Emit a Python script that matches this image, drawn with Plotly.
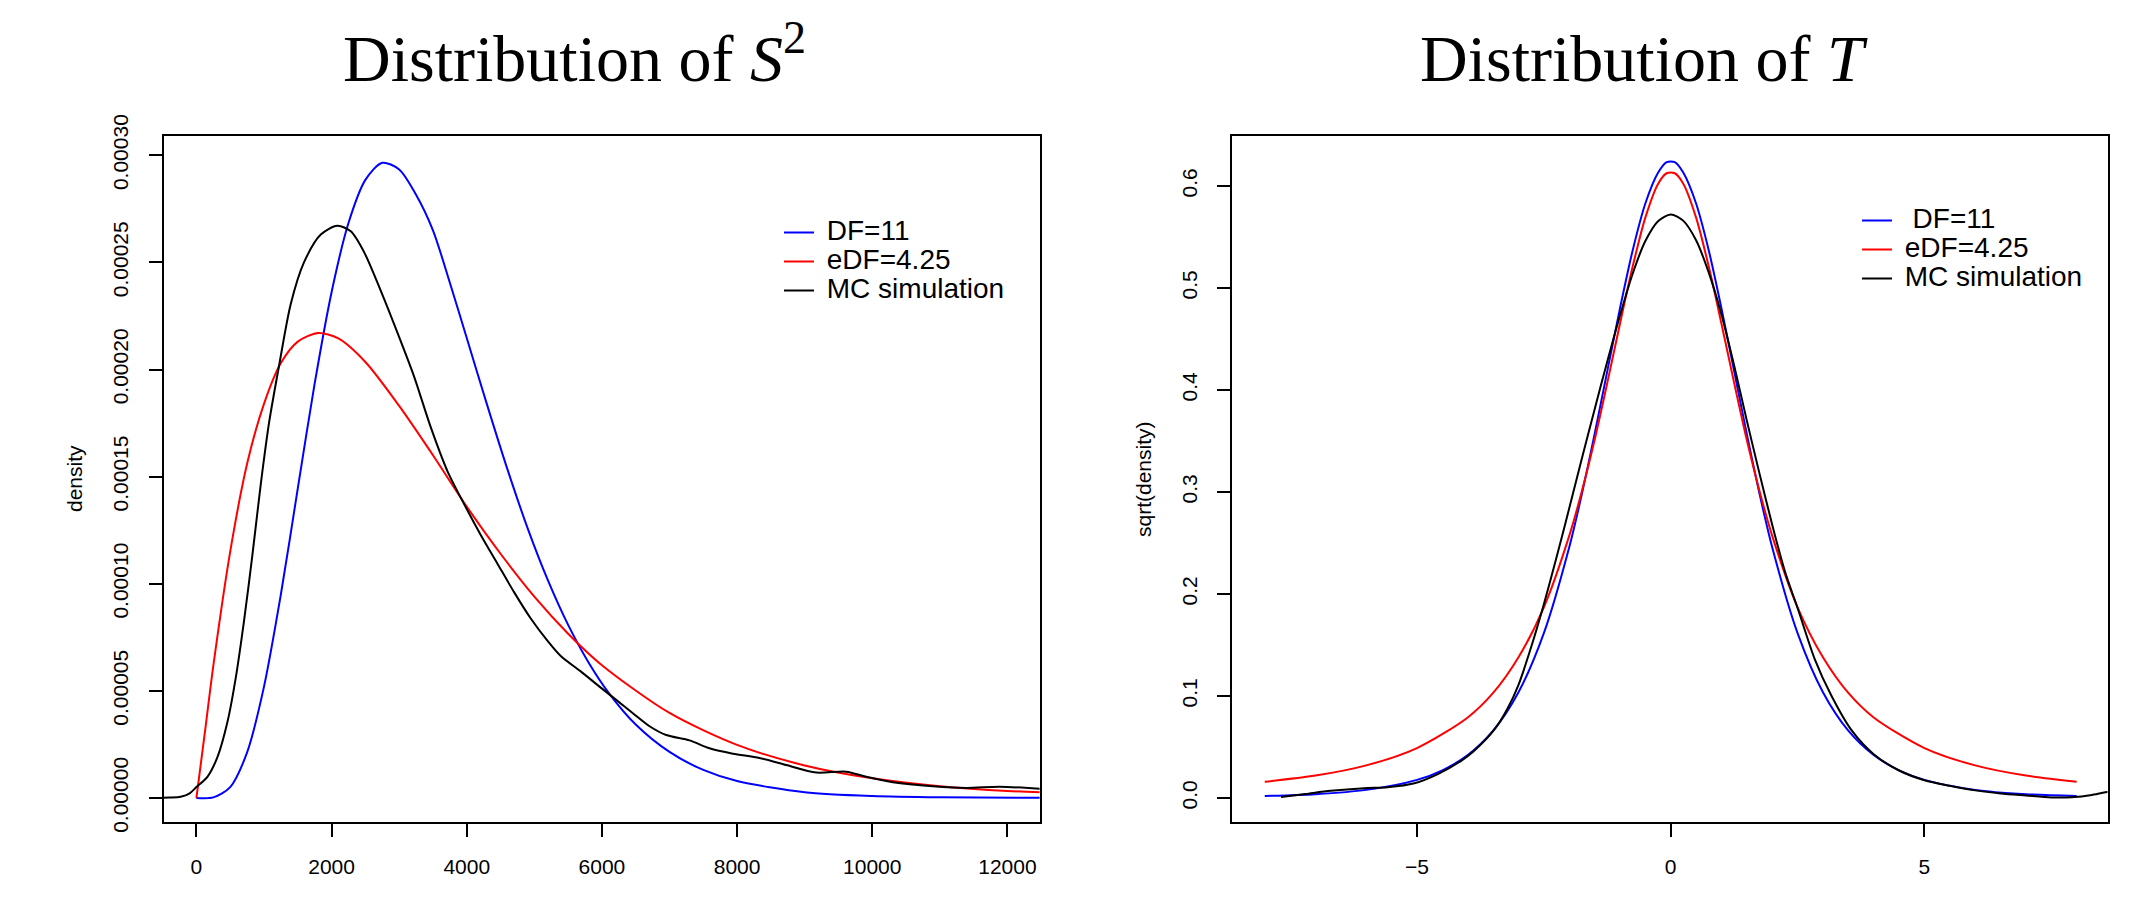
import plotly.graph_objects as go

W, H = 2145, 909
OFF = 8  # the page body margin shifts the figure by this many pixels

# ---------------- Left panel: distribution of S^2 ----------------
s2_blue_x = [0, 250, 500, 750, 1000, 1250, 1500, 1750, 2000, 2250, 2500, 2750, 3000, 3250, 3500,
             3750, 4000, 4300, 4600, 4900, 5200, 5500, 5800, 6100, 6500, 7000, 7500, 8000, 9000,
             10000, 11000, 12600]
s2_blue_y = [0, 0.0000003, 0.0000051, 0.0000213, 0.000052, 0.0000951, 0.0001445, 0.0001935,
             0.0002361, 0.0002684, 0.0002885, 0.0002965, 0.0002934, 0.0002816, 0.000265,
             0.0002405, 0.0002147, 0.0001836, 0.0001536, 0.000126, 0.0001017, 0.0000808,
             0.0000634, 0.0000491, 0.0000343, 0.0000215, 0.0000131, 0.0000079, 0.0000027,
             0.0000009, 0.0000003, 0.0000001]

s2_red_x = [0, 125, 250, 500, 750, 1000, 1250, 1500, 1800, 2100, 2500, 3000, 3500, 4000, 4500,
            5000, 5500, 6000, 7000, 8000, 9000, 10000, 11000, 12000, 12600]
s2_red_y = [0, 0.0000306, 0.0000617, 0.000115, 0.000156, 0.000184, 0.000203, 0.000213, 0.000217,
            0.0002145, 0.0002035, 0.000183, 0.00016, 0.000136, 0.000114, 0.000094, 0.0000767,
            0.000062, 0.0000397, 0.0000248, 0.0000152, 0.0000092, 0.0000055, 0.0000033, 0.0000026]

s2_mc_x = [-600, -400, -232, -100, 0, 163, 311, 459, 582, 705, 829, 952, 1075, 1223, 1396, 1593,
           1840, 2086, 2284, 2481, 2727, 2974, 3221, 3467, 3714, 3911, 4207, 4454, 4700, 4947,
           5193, 5391, 5686, 5964, 6211, 6458, 6705, 6951, 7297, 7592, 7938, 8332, 8727, 9171,
           9615, 9911, 10306, 10898, 11391, 11884, 12477, 12700]
s2_mc_y = [0, 0.0000002, 0.0000006, 0.0000022, 0.0000051, 0.0000099, 0.0000191, 0.0000355,
           0.0000561, 0.0000828, 0.0001136, 0.0001464, 0.0001752, 0.0002018, 0.0002306,
           0.0002501, 0.000263, 0.0002671, 0.0002645, 0.0002548, 0.0002368, 0.0002172,
           0.0001967, 0.0001731, 0.0001526, 0.0001402, 0.0001228, 0.0001094, 0.0000961,
           0.0000838, 0.0000735, 0.0000663, 0.0000591, 0.000052, 0.0000458, 0.0000396,
           0.0000335, 0.0000294, 0.0000269, 0.0000232, 0.0000207, 0.0000187, 0.0000154,
           0.0000119, 0.0000123, 0.0000099, 0.0000074, 0.0000055, 0.0000047, 0.0000053,
           0.0000043, 0.000004]

s2_xticks = [0, 2000, 4000, 6000, 8000, 10000, 12000]
s2_yticks = [0, 0.00005, 0.0001, 0.00015, 0.0002, 0.00025, 0.0003]

# ---------------- Right panel: distribution of T ----------------
t_blue_x = [-8, -7, -6, -5, -4.5, -4, -3.5, -3, -2.5, -2, -1.75, -1.5, -1.25, -1, -0.75, -0.5,
            -0.25, -0.08, 0.08, 0.25, 0.5, 0.75, 1, 1.25, 1.5, 1.75, 2, 2.5, 3, 3.5, 4, 4.5, 5,
            6, 7, 8]
t_blue_y = [0.002, 0.0038, 0.008, 0.0178, 0.0272, 0.0421, 0.066, 0.1037, 0.1616, 0.2458, 0.2983,
            0.3567, 0.4185, 0.48, 0.5368, 0.5828, 0.6129, 0.6234, 0.6234, 0.6129, 0.5828, 0.5368,
            0.48, 0.4185, 0.3567, 0.2983, 0.2458, 0.1616, 0.1037, 0.066, 0.0421, 0.0272, 0.0178,
            0.008, 0.0038, 0.002]

t_red_x = [-8, -7, -6, -5, -4, -3.5, -3, -2.5, -2, -1.75, -1.5, -1.25, -1, -0.75, -0.5, -0.25,
           -0.08, 0.08, 0.25, 0.5, 0.75, 1, 1.25, 1.5, 1.75, 2, 2.5, 3, 3.5, 4, 5, 6, 7, 8]
t_red_y = [0.016, 0.022, 0.032, 0.049, 0.079, 0.103, 0.138, 0.187, 0.257, 0.301, 0.351, 0.407,
           0.465, 0.521, 0.569, 0.602, 0.6125, 0.6125, 0.602, 0.569, 0.521, 0.465, 0.407, 0.351,
           0.301, 0.257, 0.187, 0.138, 0.103, 0.079, 0.049, 0.032, 0.022, 0.016]

t_mc_x = [-7.68, -7.2, -6.7, -6.04, -5.58, -5.05, -4.59, -4.13, -3.9, -3.48, -3.21, -3.0, -2.75,
          -2.5, -2.25, -2.0, -1.75, -1.5, -1.25, -1.0, -0.75, -0.5, -0.25, 0, 0.25, 0.5, 0.75,
          1.0, 1.25, 1.5, 1.75, 2.0, 2.25, 2.52, 2.84, 3.17, 3.57, 4.0, 4.5, 5.0, 5.5, 6.0, 6.5,
          7.0, 7.5, 7.9, 8.3, 8.6, 8.9]
t_mc_y = [0.0011, 0.004, 0.0071, 0.0097, 0.0106, 0.0145, 0.0235, 0.0365, 0.0451, 0.0667, 0.0883,
          0.111, 0.148, 0.19, 0.236, 0.284, 0.333, 0.381, 0.428, 0.473, 0.514, 0.546, 0.5655,
          0.5721, 0.5658, 0.5468, 0.515, 0.474, 0.424, 0.37, 0.318, 0.268, 0.2222, 0.1834,
          0.136, 0.1, 0.066, 0.043, 0.027, 0.0175, 0.012, 0.0075, 0.0045, 0.0025, 0.0006,
          0.0008, 0.003, 0.006, 0.009]

t_xticks = [-5, 0, 5]
t_yticks = [0.0, 0.1, 0.2, 0.3, 0.4, 0.5, 0.6]

legend_names = ["DF=11", "eDF=4.25", "MC simulation"]
legend_names_t = ["\u00a0DF=11", "eDF=4.25", "MC simulation"]
colors = ["#0000FF", "#FF0000", "#000000"]

SANS = "Liberation Sans, Arial, Helvetica, sans-serif"
SERIF = "Liberation Serif, Times New Roman, serif"


def px_x(p):
    return (p - OFF) / W


def px_y(p):
    return 1 - (p - OFF) / H


def lab(t):
    # leading non-breaking space reproduces the gap between the key line and the text
    return '<span style="font-size:28px">\u00a0' + t + '</span>'


fig = go.Figure()

for (xs, ys), name, c in zip([(s2_blue_x, s2_blue_y), (s2_red_x, s2_red_y), (s2_mc_x, s2_mc_y)],
                             legend_names, colors):
    fig.add_trace(go.Scatter(x=xs, y=ys, mode="lines", name=lab(name),
                             line=dict(color=c, width=2, shape="spline", smoothing=0.8),
                             xaxis="x", yaxis="y", legend="legend"))

for (xs, ys), name, c in zip([(t_blue_x, t_blue_y), (t_red_x, t_red_y), (t_mc_x, t_mc_y)],
                             legend_names_t, colors):
    fig.add_trace(go.Scatter(x=xs, y=ys, mode="lines", name=lab(name),
                             line=dict(color=c, width=2, shape="spline", smoothing=0.8),
                             xaxis="x2", yaxis="y2", legend="legend2"))

# plot box pixels (page coordinates)
L_X0, L_X1 = 163.5, 1039.6
R_X0, R_X1 = 1232, 2107.5
Y_TOP, Y_BOT = 136, 822

axis_common = dict(showline=True, mirror=True, linecolor="black", linewidth=2,
                   ticks="outside", ticklen=13, tickwidth=2, tickcolor="black",
                   showgrid=False, zeroline=False, automargin=False,
                   tickfont=dict(family=SANS, size=21, color="black"))

fig.update_layout(
    template="plotly_white",
    width=W, height=H, autosize=False,
    margin=dict(l=0, r=0, t=0, b=0, pad=0, autoexpand=False),
    paper_bgcolor="white", plot_bgcolor="white",
    xaxis=dict(domain=[px_x(L_X0), px_x(L_X1)], range=[-487, 12476], tickvals=s2_xticks,
               tickformat="d", anchor="y", ticklabelstandoff=12, **axis_common),
    yaxis=dict(domain=[px_y(Y_BOT), px_y(Y_TOP)], range=[-0.0000112, 0.000309],
               tickvals=s2_yticks, tickformat=".5f", tickangle=-90, anchor="x",
               ticklabelstandoff=12, **axis_common),
    xaxis2=dict(domain=[px_x(R_X0), px_x(R_X1)], range=[-8.646, 8.608], tickvals=t_xticks,
                anchor="y2", ticklabelstandoff=12, **axis_common),
    yaxis2=dict(domain=[px_y(Y_BOT), px_y(Y_TOP)], range=[-0.0235, 0.649], tickvals=t_yticks,
                tickformat=".1f", tickangle=-90, anchor="x2", ticklabelstandoff=12,
                **axis_common),
    legend=dict(x=px_x(779), y=px_y(213), xanchor="left", yanchor="top",
                bgcolor="rgba(0,0,0,0)", borderwidth=0, itemwidth=30, tracegroupgap=0,
                font=dict(family=SANS, size=20, color="black")),
    legend2=dict(x=px_x(1857), y=px_y(201), xanchor="left", yanchor="top",
                 bgcolor="rgba(0,0,0,0)", borderwidth=0, itemwidth=30, tracegroupgap=0,
                 font=dict(family=SANS, size=20, color="black")),
    showlegend=True,
)

annotations = [
    dict(text="Distribution of <i>S</i><sup>2</sup>", x=px_x(574), y=px_y(96.5),
         xanchor="center", yanchor="bottom", font=dict(family=SERIF, size=66, color="black")),
    dict(text="Distribution of <i>T</i>", x=px_x(1643.5), y=px_y(96.5),
         xanchor="center", yanchor="bottom", font=dict(family=SERIF, size=66, color="black")),
    dict(text="density", x=px_x(74), y=px_y((Y_TOP + Y_BOT) / 2), textangle=-90,
         xanchor="center", yanchor="middle", font=dict(family=SANS, size=21, color="black")),
    dict(text="sqrt(density)", x=px_x(1143), y=px_y((Y_TOP + Y_BOT) / 2), textangle=-90,
         xanchor="center", yanchor="middle", font=dict(family=SANS, size=21, color="black")),
    dict(text="<i>S</i><sup>2</sup>", x=px_x(601.5), y=px_y(903), xanchor="center",
         yanchor="top", font=dict(family=SERIF, size=24, color="black")),
    dict(text="T value", x=px_x(1669.6), y=px_y(903), xanchor="center",
         yanchor="top", font=dict(family=SANS, size=24, color="black")),
]
for a in annotations:
    a.update(xref="paper", yref="paper", showarrow=False)
fig.update_layout(annotations=annotations)

fig.write_html("out.html", config={"displayModeBar": False})
